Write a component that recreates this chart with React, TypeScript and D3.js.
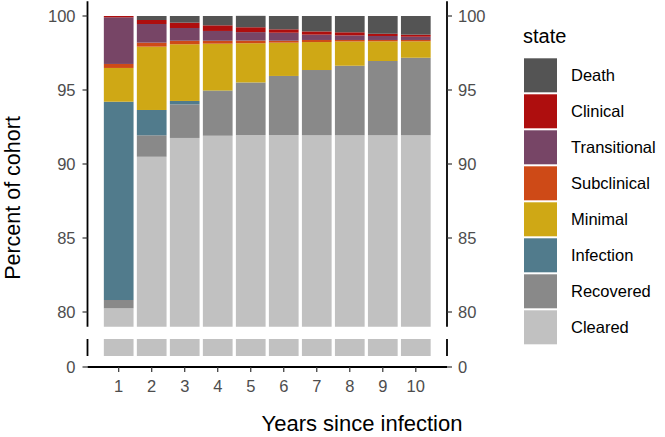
import React from "react";
import * as d3 from "d3";

const years = [1, 2, 3, 4, 5, 6, 7, 8, 9, 10];
const states = ["Cleared", "Recovered", "Infection", "Minimal", "Subclinical", "Transitional", "Clinical", "Death"];
const cleared = [80.25, 90.49, 91.76, 91.91, 91.96, 91.96, 91.94, 91.94, 91.94, 91.94];
const recovered = [0.56, 1.45, 2.27, 3.02, 3.54, 3.99, 4.41, 4.7, 5.02, 5.24];
const infection = [13.4, 1.71, 0.23, 0.03, 0.01, 0, 0, 0, 0, 0];
const minimal = [2.28, 4.28, 3.83, 3.17, 2.65, 2.25, 1.89, 1.64, 1.33, 1.11];
const subclinical = [0.27, 0.27, 0.24, 0.2, 0.18, 0.13, 0.14, 0.1, 0.09, 0.09];
const transitional = [3.15, 1.26, 0.86, 0.66, 0.57, 0.54, 0.36, 0.31, 0.27, 0.22];
const clinical = [0.09, 0.27, 0.36, 0.38, 0.33, 0.23, 0.22, 0.21, 0.15, 0.14];
const death = [0.0, 0.27, 0.45, 0.63, 0.77, 0.9, 1.04, 1.1, 1.2, 1.26];
const colors = ["#c1c1c1", "#898989", "#517b8c", "#cfa815", "#ce4a17", "#774566", "#ae0e0e", "#545454"];
const topTicks = [80, 85, 90, 95, 100];
const lowTicks = [0];

const FONT = "'Liberation Sans', Arial, sans-serif";

export default function App() {
  const seriesVals = [cleared, recovered, infection, minimal, subclinical, transitional, clinical, death];
  const rows = years.map((y, i) => {
    const r: any = { year: y };
    states.forEach((s, k) => (r[s] = seriesVals[k][i]));
    return r;
  });
  const stacked = d3.stack().keys(states)(rows);
  const color = d3.scaleOrdinal<string, string>().domain(states).range(colors);

  const left = 87.5, right = 447;
  const x = d3.scaleLinear().domain([0.055, 10.945]).range([left, right]);
  const bw = x(0.9) - x(0);
  const yTop = d3.scaleLinear().domain([79, 101]).range([326.8, 1.2]);
  const yLow = d3.scaleLinear().domain([0, 1]).range([367, 339]);
  const lowTop = 339, lowBot = 356;
  const axisY = yLow(0);

  const legendStates = states.slice().reverse();

  return (
    <svg width={665} height={437} style={{ position: "absolute", left: 0, top: 0, background: "#fff" }} fontFamily={FONT}>
      <defs>
        <clipPath id="clipTop">
          <rect x={left} y={yTop(101)} width={right - left} height={yTop(79) - yTop(101)} />
        </clipPath>
        <clipPath id="clipLow">
          <rect x={left} y={lowTop} width={right - left} height={lowBot - lowTop} />
        </clipPath>
      </defs>
      <g clipPath="url(#clipTop)">
        {stacked.map((s) => (
          <g key={s.key} fill={color(s.key)}>
            {s.map((d, i) => (
              <rect key={i} x={x(years[i]) - bw / 2} width={bw} y={yTop(d[1])} height={Math.max(0, yTop(d[0]) - yTop(d[1]))} />
            ))}
          </g>
        ))}
      </g>
      <g clipPath="url(#clipLow)">
        {stacked.map((s) => (
          <g key={s.key} fill={color(s.key)}>
            {s.map((d, i) => (
              <rect key={i} x={x(years[i]) - bw / 2} width={bw} y={yLow(d[1])} height={Math.max(0, yLow(d[0]) - yLow(d[1]))} />
            ))}
          </g>
        ))}
      </g>
      {/* axes lines */}
      {[left, right].map((ax, j) => (
        <g key={j} stroke="#000" strokeWidth={1.8}>
          <line x1={ax} x2={ax} y1={yTop(101)} y2={yTop(79)} />
          <line x1={ax} x2={ax} y1={lowTop} y2={lowBot} />
        </g>
      ))}
      <line x1={left} x2={right} y1={axisY} y2={axisY} stroke="#000" strokeWidth={1.8} />
      {/* y ticks */}
      {topTicks.map((t) => (
        <g key={t}>
          <line x1={left - 5} x2={left} y1={yTop(t)} y2={yTop(t)} stroke="#333" strokeWidth={1.2} />
          <line x1={right} x2={right + 5} y1={yTop(t)} y2={yTop(t)} stroke="#333" strokeWidth={1.2} />
          <text x={left - 12} y={yTop(t)} dy="0.36em" textAnchor="end" fontSize={16.5} fill="#4d4d4d">{t}</text>
          <text x={right + 11} y={yTop(t)} dy="0.36em" textAnchor="start" fontSize={16.5} fill="#4d4d4d">{t}</text>
        </g>
      ))}
      {lowTicks.map((t) => (
        <g key={t}>
          <line x1={left - 5} x2={left} y1={yLow(t)} y2={yLow(t)} stroke="#333" strokeWidth={1.2} />
          <line x1={right} x2={right + 5} y1={yLow(t)} y2={yLow(t)} stroke="#333" strokeWidth={1.2} />
          <text x={left - 12} y={yLow(t)} dy="0.36em" textAnchor="end" fontSize={16.5} fill="#4d4d4d">{t}</text>
          <text x={right + 11} y={yLow(t)} dy="0.36em" textAnchor="start" fontSize={16.5} fill="#4d4d4d">{t}</text>
        </g>
      ))}
      {/* x ticks */}
      {years.map((yv) => (
        <g key={yv}>
          <line x1={x(yv)} x2={x(yv)} y1={axisY} y2={axisY + 5} stroke="#333" strokeWidth={1.2} />
          <text x={x(yv)} y={axisY + 19} dy="0.36em" textAnchor="middle" fontSize={16.5} fill="#4d4d4d">{yv}</text>
        </g>
      ))}
      {/* titles */}
      <text x={362} y={431} textAnchor="middle" fontSize={22} fill="#000">Years since infection</text>
      <text transform={`translate(20,198) rotate(-90)`} textAnchor="middle" fontSize={21.5} fill="#000">Percent of cohort</text>
      {/* legend */}
      <text x={523} y={43} fontSize={20} fill="#000">state</text>
      {legendStates.map((s, i) => (
        <g key={s} transform={`translate(524,${58.3 + i * 36})`}>
          <rect width={33} height={34} fill={color(s)} />
          <text x={47} y={17} dy="0.36em" fontSize={16.5} fill="#000">{s}</text>
        </g>
      ))}
    </svg>
  );
}
